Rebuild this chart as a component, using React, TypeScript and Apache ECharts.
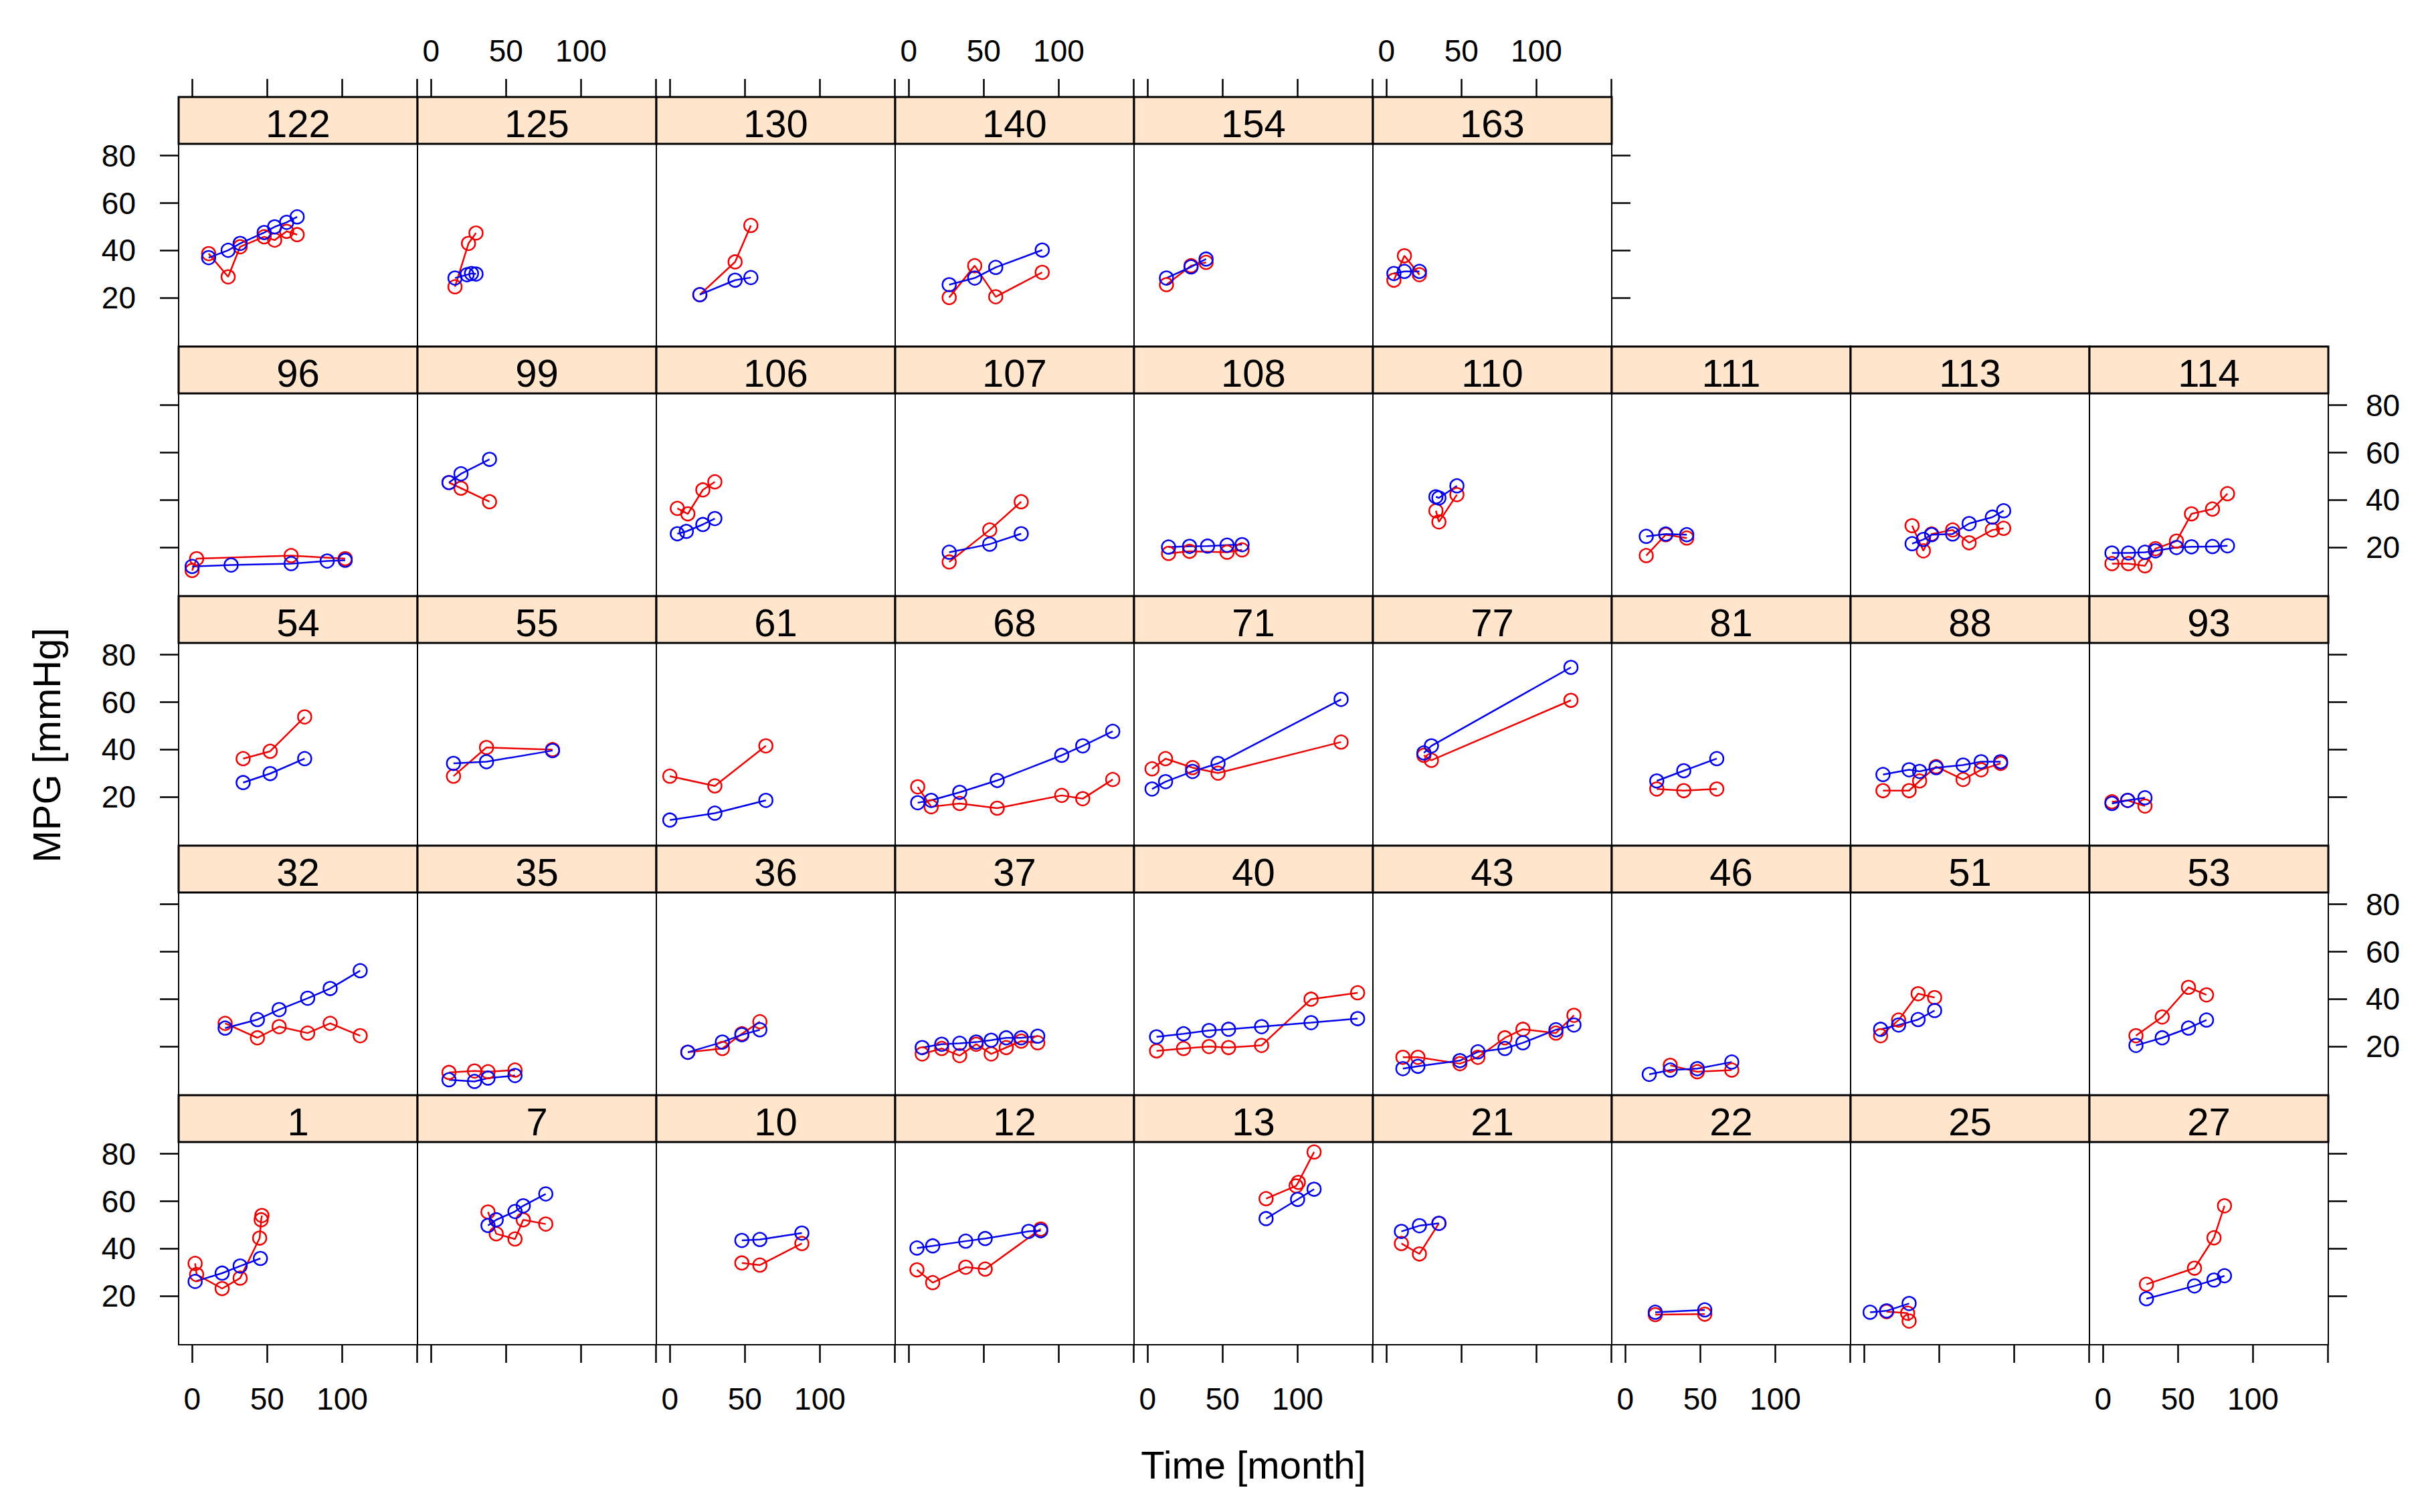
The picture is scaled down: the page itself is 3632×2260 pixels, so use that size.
import React, { useEffect, useRef } from "react";
import * as echarts from "echarts";

// ---------- data: [time (month), MPG (mmHg)] per panel ----------
const blue122 = [[11, 37], [24, 40.1], [32, 43], [48, 47.6], [55, 50], [63, 51.9], [70, 54.2]];
const red122 = [[11, 38.7], [24, 28.9], [32, 41.6], [48, 45.8], [55, 44.4], [63, 48.1], [70, 46.7]];
const blue125 = [[16, 28.4], [24, 29.8], [27, 30.3], [30, 30.1]];
const red125 = [[16, 24.7], [25, 43], [30, 47.4]];
const blue130 = [[20, 21.4], [43.5, 27.5], [54, 28.6]];
const red130 = [[20, 21.4], [43.5, 35.2], [54, 50.6]];
const blue140 = [[27, 25.6], [44, 28.4], [58, 32.9], [89, 40.2]];
const red140 = [[27, 20.2], [44, 33.6], [58, 20.5], [89, 30.8]];
const blue154 = [[12.6, 28.4], [29, 33.1], [39, 36.4]];
const red154 = [[12.6, 25.6], [29, 33.6], [39, 35]];
const blue163 = [[5, 30.3], [12, 31.2], [22, 31.2]];
const red163 = [[5, 27.5], [12, 37.8], [22, 29.8]];

const blue96 = [[0, 12], [26, 12.6], [66, 13.2], [90, 14.3], [102, 14.6]];
const red96 = [[0, 10.3], [3, 15.3], [66, 16.6], [102, 15.3]];
const blue99 = [[12, 47.4], [20, 51.1], [39, 57.2]];
const red99 = [[12, 47.4], [20, 45], [39, 39.3]];
const blue106 = [[5, 25.8], [11, 26.8], [22, 29.7], [30, 32.2]];
const red106 = [[5, 36.5], [12, 34.2], [22, 44.3], [30, 47.7]];
const blue107 = [[27, 18], [54, 21.4], [75, 25.8]];
const red107 = [[27, 13.9], [54, 27.4], [75, 39.3]];
const blue108 = [[14, 20.2], [28, 20.5], [40, 20.6], [53, 21], [63, 21.2]];
const red108 = [[14, 17.5], [28, 18.4], [53, 18], [63, 19]];
const blue110 = [[33, 41.4], [35, 40.9], [47, 46]];
const red110 = [[33, 35.5], [35, 30.8], [47, 42.3]];
const blue111 = [[14, 24.7], [27, 25.7], [41, 25.4]];
const red111 = [[14, 16.6], [27, 25.4], [41, 24]];
const blue113 = [[32, 21.6], [39.5, 23.4], [45, 25.4], [59, 25.7], [70, 30.1], [85.5, 32.8], [93, 35.5]];
const red113 = [[32, 29.2], [39.5, 18.6], [45, 25.7], [59, 27.4], [70, 22], [85.5, 27.4], [93, 28.1]];
const blue114 = [[6, 17.7], [17, 17.7], [28, 18], [35, 18.6], [49, 20], [59, 20.3], [73, 20.4], [83, 20.7]];
const red114 = [[6, 13.2], [17, 13.2], [28, 12.3], [35, 19.5], [49, 22.7], [59, 34.2], [73, 36.2], [83, 42.7]];

const blue54 = [[34, 26.1], [52, 29.9], [75, 36.2]];
const red54 = [[34, 36.2], [52, 39.3], [75, 53.8]];
const blue55 = [[15, 34.2], [37, 34.9], [81, 39.6]];
const red55 = [[15, 28.8], [37, 40.9], [81, 40]];
const blue61 = [[0, 10.3], [30, 13.2], [64, 18.6]];
const red61 = [[0, 28.8], [30, 24.7], [64, 41.6]];
const blue68 = [[6, 17.6], [15, 18.6], [34, 22], [59, 27], [102, 37.6], [116, 41.6], [136, 47.7]];
const red68 = [[6, 24.3], [15, 15.9], [34, 17.3], [59, 15.3], [102, 20.7], [116, 19.3], [136, 27.4]];
const blue71 = [[3, 23.4], [12, 26.5], [30, 30.8], [47, 34.2], [129, 61.2]];
const red71 = [[3, 31.9], [12, 36.2], [30, 32.4], [47, 30.1], [129, 43.2]];
const blue77 = [[25, 38.6], [30, 41.6], [123, 74.7]];
const red77 = [[25, 37.6], [30, 35.5], [123, 60.8]];
const blue81 = [[21, 26.8], [39, 31.1], [61, 36.2]];
const red81 = [[21, 23.4], [39, 22.7], [61, 23.4]];
const blue88 = [[12.6, 29.5], [30, 31.5], [37, 30.8], [48, 32.4], [66, 33.5], [78, 34.9], [91, 34.9]];
const red88 = [[12.6, 22.7], [30, 22.7], [37, 26.8], [48, 32.8], [66, 27.4], [78, 31.5], [91, 34.2]];
const blue93 = [[6, 17.3], [16.5, 18.6], [28, 19.7]];
const red93 = [[6, 18], [16.5, 18.6], [28, 16.2]];

const blue32 = [[22, 27.8], [43.5, 31.4], [58, 35.6], [77, 40.4], [92, 44.5], [112, 52]];
const red32 = [[22, 29.8], [43.5, 23.7], [58, 28.4], [77, 25.7], [92, 29.8], [112, 24.6]];
const blue35 = [[12, 6], [29, 5.3], [38, 6.7], [56, 7.8]];
const red35 = [[12, 9.1], [29, 9.7], [38, 9.4], [56, 10.1]];
const blue36 = [[12, 17.6], [35, 21.9], [48, 25], [60, 27.1]];
const red36 = [[12, 17.6], [35, 19.2], [48, 25.4], [60, 30.5]];
const blue37 = [[9, 19.6], [22, 21], [34, 21.4], [45, 21.9], [55, 22.7], [65, 23.7], [75, 23.7], [86, 24.4]];
const red37 = [[9, 16.9], [22, 19.2], [34, 16.2], [45, 21], [55, 16.9], [65, 19.6], [75, 22.3], [86, 21.6]];
const blue40 = [[6, 24.1], [24, 25.4], [41, 26.8], [54, 27.3], [76, 28.4], [109, 30.1], [140, 31.8]];
const red40 = [[6, 18.2], [24, 19.2], [41, 20], [54, 19.6], [76, 20.5], [109, 40], [140, 42.7]];
const blue43 = [[11, 10.7], [21, 11.7], [49, 14.1], [61, 17.8], [79, 19.2], [91, 21.6], [113, 27.1], [125, 29.1]];
const red43 = [[11, 15.5], [21, 15.5], [49, 12.8], [61, 15.5], [79, 23.7], [91, 27.3], [113, 25.7], [125, 33.2]];
const blue46 = [[16, 8.3], [30, 10.1], [48, 10.7], [71, 13.5]];
const red46 = [[30, 12.1], [48, 9.4], [71, 10.1]];
const blue51 = [[11, 27.3], [23, 29.1], [36, 31.4], [47, 35.2]];
const red51 = [[11, 24.6], [23, 31.2], [36, 42.3], [47, 40.7]];
const blue53 = [[22, 20.5], [39.5, 23.7], [57, 27.8], [69, 31.2]];
const red53 = [[22, 24.6], [39.5, 32.5], [57, 45], [69, 41.8]];

const blue1 = [[2, 26.2], [20, 29.7], [32, 32.7], [45.5, 35.9]];
const red1 = [[2, 33.8], [3, 29.1], [20, 23.2], [32, 27.6], [45, 44.5], [46, 52.2], [46.5, 54]];
const blue7 = [[38, 49.8], [43.5, 52.2], [56, 55.7], [61.5, 58.1], [76.5, 63.1]];
const red7 = [[38, 55.5], [43.5, 46.3], [56, 44.1], [61.5, 52.2], [76.5, 50.4]];
const blue10 = [[48, 43.5], [60, 43.9], [88, 46.6]];
const red10 = [[48, 34], [60, 33.1], [88, 42.2]];
const blue12 = [[5.5, 40.3], [16, 41.2], [38, 43.2], [51, 44.3], [80, 47.3], [88, 47.6]];
const red12 = [[5.5, 31.1], [16, 25.7], [38, 32.2], [51, 31.4], [88, 48.3]];
const blue13 = [[79, 52.7], [100, 60.8], [111, 65.1]];
const red13 = [[79, 61.1], [99, 66.5], [100.5, 68], [111, 80.8]];
const blue21 = [[10, 47.3], [22, 49.7], [35, 50.7]];
const red21 = [[10, 42.2], [22, 37.8], [35, 50.7]];
const blue22 = [[20, 13.2], [53, 14.2]];
const red22 = [[20, 12.2], [53, 12.4]];
const blue25 = [[4, 13.2], [15, 13.8], [30, 16.9]];
const red25 = [[15, 13.5], [29, 12.8], [30, 9.5]];
const blue27 = [[29, 18.9], [61, 24.3], [74, 26.8], [81, 28.6]];
const red27 = [[29, 25], [61, 31.8], [74, 44.6], [81, 58.1]];

// panel layout (top row first), strip labels
const row1Ids = ["122", "125", "130", "140", "154", "163"];
const row2Ids = ["96", "99", "106", "107", "108", "110", "111", "113", "114"];
const row3Ids = ["54", "55", "61", "68", "71", "77", "81", "88", "93"];
const row4Ids = ["32", "35", "36", "37", "40", "43", "46", "51", "53"];
const row5Ids = ["1", "7", "10", "12", "13", "21", "22", "25", "27"];

const xTicks = [0, 50, 100, 150];
const xTickLabels = [0, 50, 100];
const yTicks = [20, 40, 60, 80];

const yTitle = "MPG [mmHg]";
const xTitle = "Time [month]";

const panelData: Record<string, number[][][]> = {
  "122": [blue122, red122], "125": [blue125, red125], "130": [blue130, red130],
  "140": [blue140, red140], "154": [blue154, red154], "163": [blue163, red163],
  "96": [blue96, red96], "99": [blue99, red99], "106": [blue106, red106],
  "107": [blue107, red107], "108": [blue108, red108], "110": [blue110, red110],
  "111": [blue111, red111], "113": [blue113, red113], "114": [blue114, red114],
  "54": [blue54, red54], "55": [blue55, red55], "61": [blue61, red61],
  "68": [blue68, red68], "71": [blue71, red71], "77": [blue77, red77],
  "81": [blue81, red81], "88": [blue88, red88], "93": [blue93, red93],
  "32": [blue32, red32], "35": [blue35, red35], "36": [blue36, red36],
  "37": [blue37, red37], "40": [blue40, red40], "43": [blue43, red43],
  "46": [blue46, red46], "51": [blue51, red51], "53": [blue53, red53],
  "1": [blue1, red1], "7": [blue7, red7], "10": [blue10, red10],
  "12": [blue12, red12], "13": [blue13, red13], "21": [blue21, red21],
  "22": [blue22, red22], "25": [blue25, red25], "27": [blue27, red27],
};

const FONT = '"Liberation Sans", Arial, Helvetica, sans-serif';
const BLUE = "#0000EE";
const RED = "#EE0000";

const GRID_LEFT = 267;
const GRID_TOP = 145;
const COL_W = 357;
const ROW_H = 373;
const STRIP_H = 70;
const PLOT_H = ROW_H - STRIP_H;
const X_MIN = -9;
const X_MAX = 150.2;
const Y_MIN = -0.5;
const Y_MAX = 85;
const TICK_FONT = 46;

function buildOption() {
  const rows = [row1Ids, row2Ids, row3Ids, row4Ids, row5Ids];
  const nRows = rows.length;
  const grid: any[] = [];
  const xAxis: any[] = [];
  const yAxis: any[] = [];
  const series: any[] = [];
  const graphic: any[] = [];

  const tickStyle = { color: "#000", width: 2.5 };
  const labelBase = { color: "#000", fontSize: TICK_FONT, fontFamily: FONT };
  const noLine = { show: false, onZero: false };

  rows.forEach((ids, r) => {
    ids.forEach((id, c) => {
      const gi = grid.length;
      const left = GRID_LEFT + c * COL_W;
      const stripTop = GRID_TOP + r * ROW_H;
      const top = stripTop + STRIP_H;
      grid.push({
        left, top, width: COL_W, height: PLOT_H,
        show: true, borderColor: "#000", borderWidth: 2, backgroundColor: "transparent",
      });

      const isTop = r === 0;
      const isBottom = r === nRows - 1;
      xAxis.push({
        type: "value", gridIndex: gi, min: X_MIN, max: X_MAX,
        position: isTop ? "top" : "bottom",
        offset: isTop ? STRIP_H : 0,
        axisLine: noLine,
        splitLine: { show: false },
        axisTick: { show: isTop || isBottom, inside: false, length: 27, lineStyle: tickStyle, customValues: xTicks },
        axisLabel: {
          show: (isTop && c % 2 === 1) || (isBottom && c % 2 === 0),
          customValues: xTickLabels,
          margin: isTop ? 46 : 58,
          ...labelBase,
        },
      });

      const yi = yAxis.length;
      yAxis.push({
        type: "value", gridIndex: gi, min: Y_MIN, max: Y_MAX, position: "left",
        axisLine: noLine, splitLine: { show: false },
        axisTick: { show: c === 0, inside: false, length: 28, lineStyle: tickStyle, customValues: yTicks },
        axisLabel: { show: c === 0 && r % 2 === 0, customValues: yTicks, margin: 64, ...labelBase },
      });
      if (c === ids.length - 1) {
        yAxis.push({
          type: "value", gridIndex: gi, min: Y_MIN, max: Y_MAX, position: "right",
          axisLine: noLine, splitLine: { show: false },
          axisTick: { show: true, inside: false, length: 28, lineStyle: tickStyle, customValues: yTicks },
          axisLabel: { show: r % 2 === 1, customValues: yTicks, margin: 56, align: "left", ...labelBase },
        });
      }

      const [bl, rd] = panelData[id];
      const mk = (data: number[][], color: string, name: string) => ({
        type: "line", name, xAxisIndex: gi, yAxisIndex: yi, data,
        symbol: "circle", symbolSize: 20, showAllSymbol: true, clip: false,
        lineStyle: { color, width: 2.5 },
        itemStyle: { color: "rgba(255,255,255,0)", borderColor: color, borderWidth: 2.5 },
        emphasis: { disabled: true }, silent: true, animation: false,
      });
      series.push(mk(rd, RED, "red"));
      series.push(mk(bl, BLUE, "blue"));

      graphic.push({
        type: "rect", silent: true, z: 10,
        shape: { x: left, y: stripTop, width: COL_W, height: STRIP_H },
        style: { fill: "#FFE5CC", stroke: "#000", lineWidth: 3 },
      });
      graphic.push({
        type: "text", silent: true, z: 11, x: left + COL_W / 2, y: stripTop + STRIP_H / 2 + 4,
        style: {
          text: id, fill: "#000", fontSize: 58, fontFamily: FONT,
          align: "center", verticalAlign: "middle", textAlign: "center", textVerticalAlign: "middle",
        },
      });
    });
  });

  graphic.push({
    type: "text", silent: true, x: 69, y: 1114, rotation: Math.PI / 2,
    style: {
      text: yTitle, fill: "#000", fontSize: 58, fontFamily: FONT,
      align: "center", verticalAlign: "middle", textAlign: "center", textVerticalAlign: "middle",
    },
  });
  graphic.push({
    type: "text", silent: true, x: GRID_LEFT + (COL_W * 9) / 2, y: 2189,
    style: {
      text: xTitle, fill: "#000", fontSize: 58, fontFamily: FONT,
      align: "center", verticalAlign: "middle", textAlign: "center", textVerticalAlign: "middle",
    },
  });

  return {
    animation: false,
    backgroundColor: "#fff",
    grid, xAxis, yAxis, series, graphic,
  };
}

export default function App() {
  const ref = useRef<HTMLDivElement>(null);
  useEffect(() => {
    document.body.style.margin = "0";
    const chart = echarts.init(ref.current!, null, { renderer: "svg" });
    chart.setOption(buildOption() as any);
    return () => chart.dispose();
  }, []);
  return <div ref={ref} style={{ width: 3632, height: 2260 }} />;
}
